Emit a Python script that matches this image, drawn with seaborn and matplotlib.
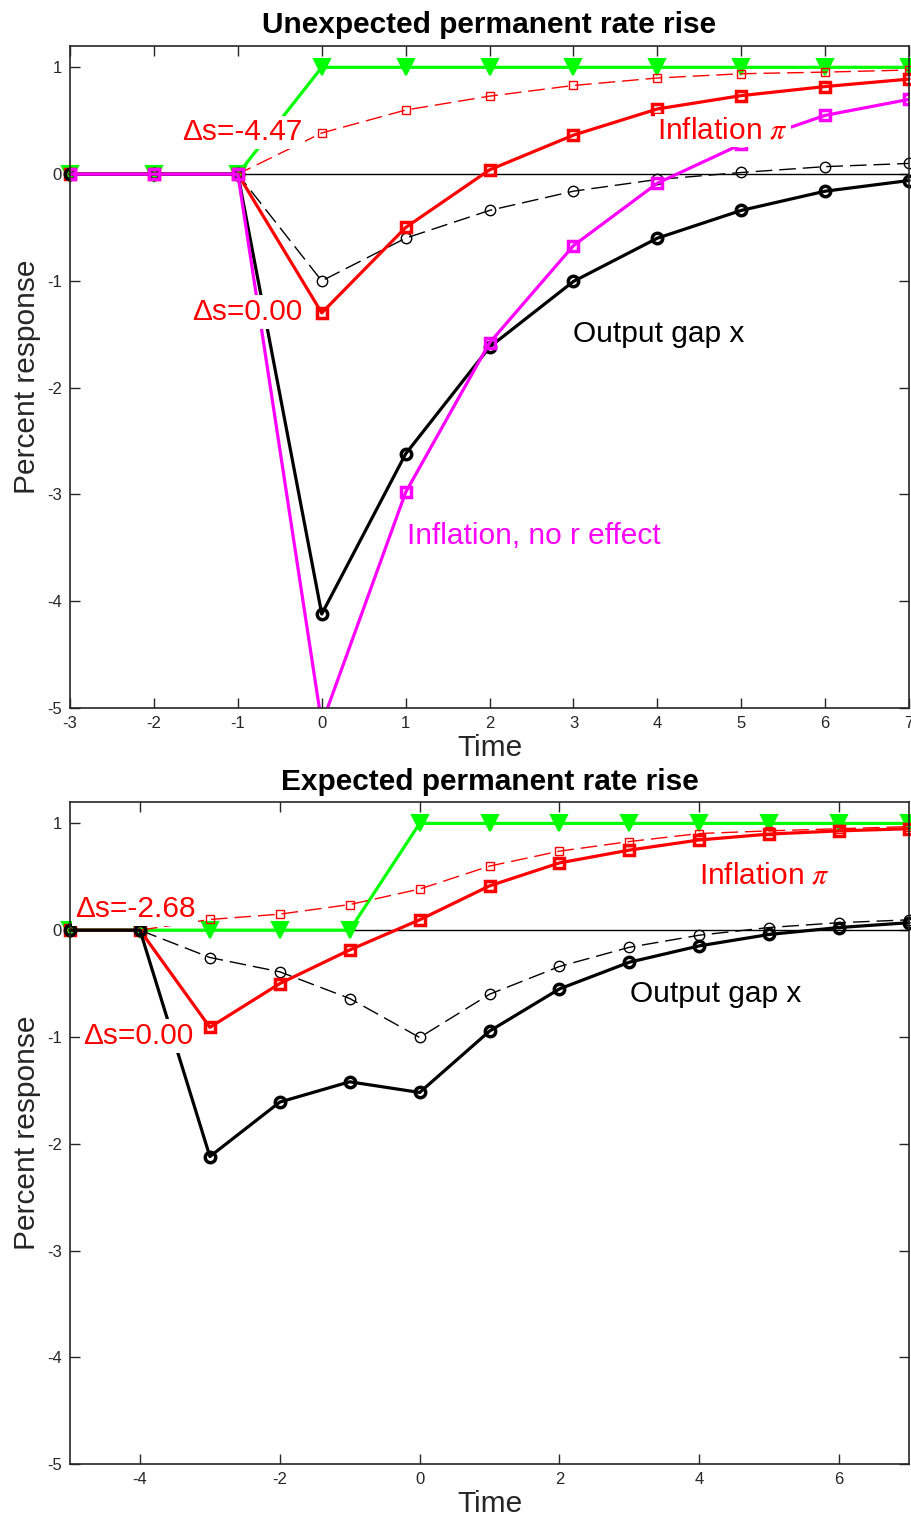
import matplotlib
matplotlib.use("Agg")
import matplotlib.pyplot as plt
import seaborn as sns

# panel 1: unexpected permanent rise
top_time = [-3, -2, -1, 0, 1, 2, 3, 4, 5, 6, 7]
top_rate = [0, 0, 0, 1, 1, 1, 1, 1, 1, 1, 1]
top_infl = [0, 0, 0, -1.30, -0.50, 0.04, 0.365, 0.61, 0.735, 0.82, 0.89]
top_infl_alt = [0, 0, 0, 0.385, 0.60, 0.73, 0.83, 0.90, 0.94, 0.955, 0.975]
top_gap = [0, 0, 0, -4.12, -2.62, -1.62, -1.005, -0.60, -0.34, -0.16, -0.06]
top_gap_alt = [0, 0, 0, -1.00, -0.60, -0.34, -0.16, -0.05, 0.015, 0.07, 0.10]
top_infl_no_r = [0, 0, 0, -5.15, -2.98, -1.58, -0.67, -0.085, 0.28, 0.55, 0.70]

# panel 2: expected permanent rise
bot_time = [-5, -4, -3, -2, -1, 0, 1, 2, 3, 4, 5, 6, 7]
bot_rate = [0, 0, 0, 0, 0, 1, 1, 1, 1, 1, 1, 1, 1]
bot_infl = [0, 0, -0.91, -0.50, -0.185, 0.097, 0.415, 0.63, 0.75, 0.845, 0.90, 0.93, 0.95]
bot_infl_alt = [0, 0, 0.10, 0.15, 0.24, 0.385, 0.60, 0.74, 0.83, 0.905, 0.93, 0.95, 0.97]
bot_gap = [0, 0, -2.12, -1.61, -1.42, -1.52, -0.945, -0.55, -0.30, -0.147, -0.04, 0.025, 0.07]
bot_gap_alt = [0, 0, -0.256, -0.39, -0.64, -1.005, -0.60, -0.34, -0.16, -0.047, 0.025, 0.07, 0.097]

titles = ["Unexpected permanent rate rise", "Expected permanent rate rise"]
ds_labels_top = ["\u0394s=-4.47", "\u0394s=0.00"]
ds_labels_bot = ["\u0394s=-2.68", "\u0394s=0.00"]

sns.set_style("ticks")
plt.rcParams["font.family"] = ["Liberation Sans", "DejaVu Sans"]
plt.rcParams["mathtext.fontset"] = "stix"
plt.rcParams["axes.unicode_minus"] = False
plt.rcParams["lines.dashed_pattern"] = (12, 5)

GREEN, RED, MAG = "#00ff00", "#ff0000", "#ff00ff"
FS = 21.5
box = dict(facecolor="white", edgecolor="none", pad=2)


def draw_series(ax, t, rate, infl_alt, gap_alt, infl, gap, no_r=None):
    ax.axhline(0, color="black", lw=1, zorder=1)
    sns.lineplot(x=t, y=rate, ax=ax, color=GREEN, lw=2.3, marker="v",
                 markersize=11, mew=1.5, mec=GREEN, mfc=GREEN, clip_on=False)
    sns.lineplot(x=t, y=infl_alt, ax=ax, color=RED, lw=1, linestyle="--", marker="s",
                 markersize=6, mew=1, mfc="none", mec=RED, clip_on=False)
    sns.lineplot(x=t, y=gap_alt, ax=ax, color="black", lw=1, linestyle="--", marker="o",
                 markersize=7.5, mew=1, mfc="none", mec="black", clip_on=False)
    sns.lineplot(x=t, y=infl, ax=ax, color=RED, lw=2.3, marker="s",
                 markersize=6.5, mew=2.5, mfc="none", mec=RED, clip_on=False)
    sns.lineplot(x=t, y=gap, ax=ax, color="black", lw=2.3, marker="o",
                 markersize=7.5, mew=2.5, mfc="none", mec="black", clip_on=False)
    if no_r is not None:
        sns.lineplot(x=t, y=no_r, ax=ax, color=MAG, lw=2.3, marker="s",
                     markersize=6.5, mew=2.5, mfc="none", mec=MAG)


def style_axes(ax, xlim, xticks, title):
    ax.set_xlim(*xlim)
    ax.set_ylim(-5, 1.2)
    ax.set_xticks(xticks)
    ax.set_yticks(range(-5, 2))
    ax.tick_params(direction="in", length=7, width=1, top=True, right=True,
                   labelsize=12, colors="#262626", pad=6)
    for sp in ax.spines.values():
        sp.set_visible(True)
        sp.set_linewidth(1.2)
        sp.set_color("#262626")
    ax.set_title(title, fontsize=FS, fontweight="bold", pad=9, color="black")
    ax.set_xlabel("Time", fontsize=FS, labelpad=2, color="#262626")
    ax.set_ylabel("Percent response", fontsize=FS, labelpad=4, color="#262626")


fig = plt.figure(figsize=(9.12, 15.17), dpi=100)
ax1 = fig.add_axes([0.0768, 0.5333, 0.920, 0.4364])
ax2 = fig.add_axes([0.0768, 0.0349, 0.920, 0.4364])

draw_series(ax1, top_time, top_rate, top_infl_alt, top_gap_alt, top_infl, top_gap, top_infl_no_r)
style_axes(ax1, (-3, 7), range(-3, 8), titles[0])
ax1.text(-0.235, 0.39, ds_labels_top[0], color=RED, fontsize=FS, ha="right", va="center", bbox=box, zorder=5)
ax1.text(-0.235, -1.29, ds_labels_top[1], color=RED, fontsize=FS, ha="right", va="center", bbox=box, zorder=5)
ax1.text(4.0, 0.41, "Inflation $\\pi$", color=RED, fontsize=FS, ha="left", va="center", bbox=box, zorder=5)
ax1.text(3.0, -1.50, "Output gap x", color="black", fontsize=FS, ha="left", va="center", bbox=box, zorder=5)
ax1.text(1.02, -3.39, "Inflation, no r effect", color=MAG, fontsize=FS, ha="left", va="center", bbox=box, zorder=5)

draw_series(ax2, bot_time, bot_rate, bot_infl_alt, bot_gap_alt, bot_infl, bot_gap)
style_axes(ax2, (-5, 7), range(-4, 8, 2), titles[1])
ax2.text(-3.21, 0.197, ds_labels_bot[0], color=RED, fontsize=FS, ha="right", va="center", bbox=box, zorder=5)
ax2.text(-3.24, -0.99, ds_labels_bot[1], color=RED, fontsize=FS, ha="right", va="center", bbox=box, zorder=5)
ax2.text(4.0, 0.515, "Inflation $\\pi$", color=RED, fontsize=FS, ha="left", va="center", bbox=box, zorder=5)
ax2.text(3.01, -0.60, "Output gap x", color="black", fontsize=FS, ha="left", va="center", bbox=box, zorder=5)

fig.savefig("out.png", dpi=100)
